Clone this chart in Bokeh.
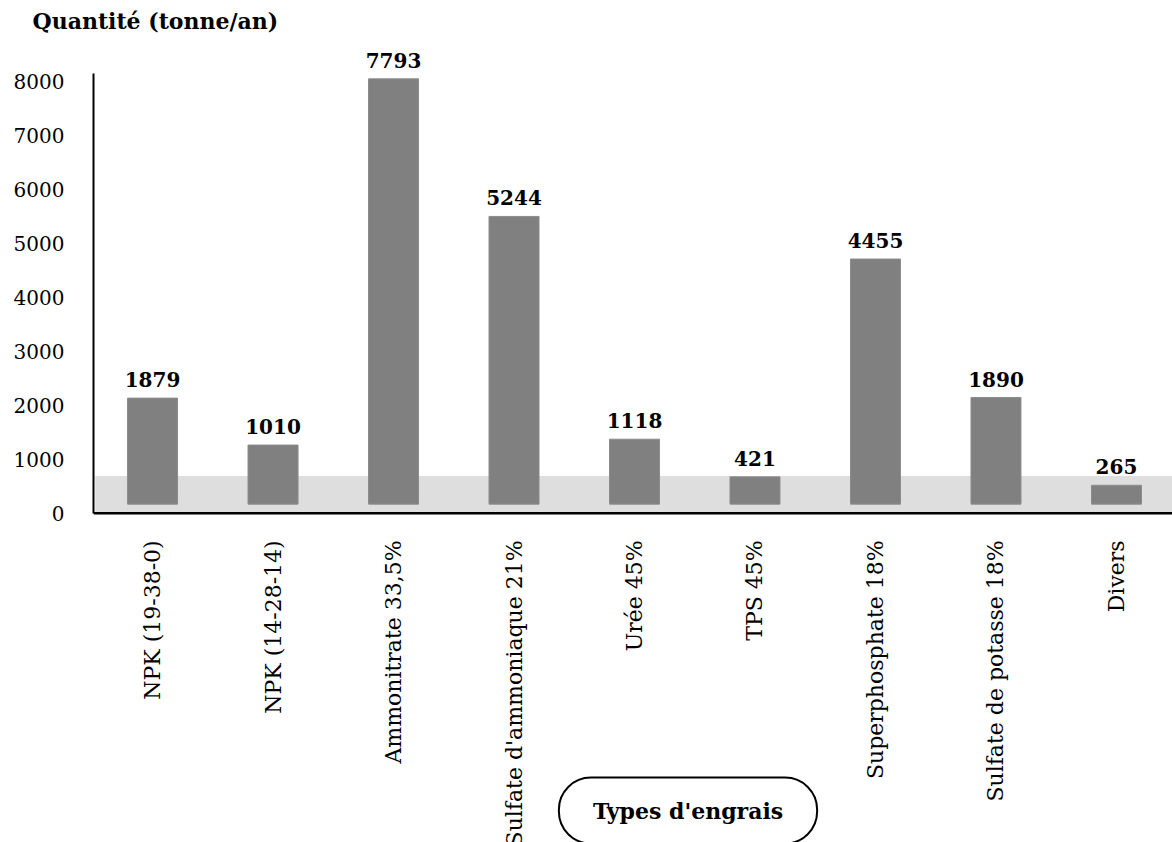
import math

from bokeh.plotting import figure
from bokeh.models import ColumnDataSource, LabelSet, Label, Span, Range1d, FixedTicker
from bokeh.core.properties import value
from bokeh.embed import file_html
from bokeh.resources import INLINE

# Fertiliser types and yearly quantities (tonne/an)
categories = [
    "NPK (19-38-0)",
    "NPK (14-28-14)",
    "Ammonitrate 33,5%",
    "Sulfate d'ammoniaque 21%",
    "Urée 45%",
    "TPS 45%",
    "Superphosphate 18%",
    "Sulfate de potasse 18%",
    "Divers",
]
quantities = [1879, 1010, 7793, 5244, 1118, 421, 4455, 1890, 265]
y_ticks = [0, 1000, 2000, 3000, 4000, 5000, 6000, 7000, 8000]

# Pseudo-3D look: bars stand on a shallow grey floor, lifted a little above the axis
FLOOR_TOP = 690
BAR_BASE = 170
BAR_LIFT = 255
CAT_LABEL_Y = -500

SERIF = "DejaVu Serif"

x_pos = list(range(len(categories)))
source = ColumnDataSource(dict(
    x=x_pos,
    cat=categories,
    qty=quantities,
    label=[str(q) for q in quantities],
    top=[q + BAR_LIFT for q in quantities],
    cat_y=[CAT_LABEL_Y] * len(categories),
))

p = figure(
    width=1172, height=842,
    x_range=Range1d(-0.49, 8.465),
    y_range=Range1d(-6097, 8795),
    x_axis_location=None,
    toolbar_location=None,
    output_backend="svg",
    min_border_left=93, min_border_right=0,
    min_border_top=0, min_border_bottom=0,
    outline_line_color=None,
    title="Quantité (tonne/an)",
)
p.grid.visible = False
p.background_fill_color = "white"
p.border_fill_color = "white"

# y-axis title, written horizontally above the axis
p.title.align = "left"
p.title.offset = -61
p.title.standoff = 10
p.title.text_font = SERIF
p.title.text_font_size = "22px"
p.title.text_font_style = "bold"
p.title.text_color = "black"

# floor of the chart
p.quad(left=-0.475, right=8.465, bottom=0, top=FLOOR_TOP,
       fill_color="#dedede", line_color=None)

# bars
p.vbar(x="x", width=0.415, bottom=BAR_BASE, top="top", source=source,
       fill_color="#808080", line_color="#8c8c8c", line_width=1)

# horizontal axis line
p.add_layout(Span(location=0, dimension="width", line_color="black", line_width=2.5))

# vertical axis
yax = p.yaxis[0]
yax.ticker = FixedTicker(ticks=y_ticks)
yax.bounds = (0, 8150)
yax.axis_line_width = 2
yax.axis_line_color = "black"
yax.major_tick_line_color = None
yax.minor_tick_line_color = None
yax.major_tick_out = 0
yax.major_tick_in = 0
yax.major_label_standoff = 29
yax.major_label_text_font = SERIF
yax.major_label_text_font_size = "20px"
yax.major_label_text_color = "black"

# value labels above the bars
p.add_layout(LabelSet(
    x="x", y="top", text="label", source=source,
    y_offset=11, text_align="center", text_baseline="alphabetic",
    text_font=value(SERIF), text_font_size=value("20px"), text_font_style="bold",
    text_color="black",
))

# category names, written vertically under the axis
p.add_layout(LabelSet(
    x="x", y="cat_y", text="cat", source=source,
    angle=math.pi / 2, text_align="right", text_baseline="middle",
    text_font=value(SERIF), text_font_size=value("22px"), text_color="black",
))

# x-axis title in a rounded frame
p.add_layout(Label(
    x=4.444, y=-5506, text="Types d'engrais",
    text_align="center", text_baseline="middle",
    text_font=SERIF, text_font_size="22px", text_font_style="bold",
    text_color="black",
    border_line_color="black", border_line_width=2,
    border_radius=32, padding=(34, 20),
    background_fill_color="white",
))

open("out.html", "w").write(file_html(p, INLINE))
